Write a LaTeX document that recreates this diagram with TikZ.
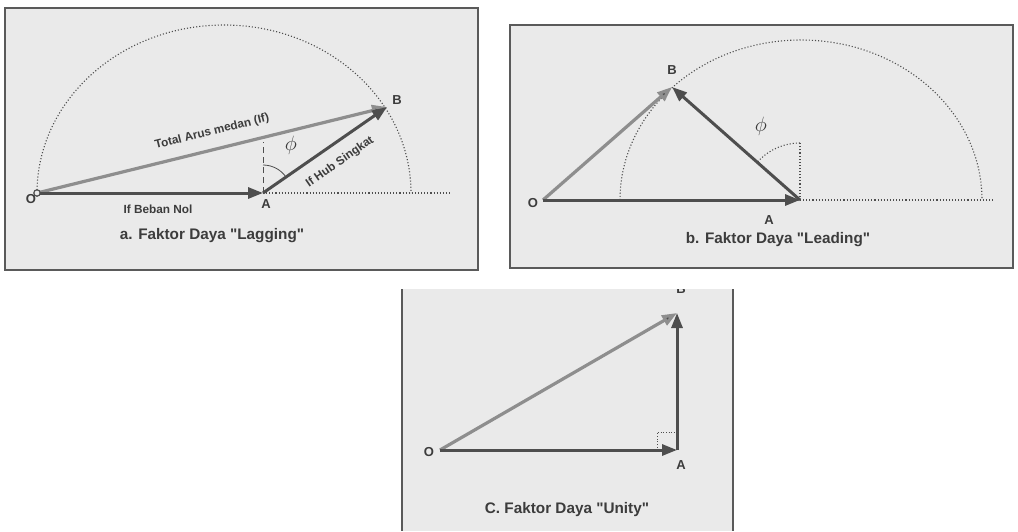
\documentclass[tikz,border=0pt]{standalone}
\usepackage{fontspec}
\setmainfont{Liberation Sans}[Ligatures=TeXOff]
\usetikzlibrary{arrows.meta}
\definecolor{panelbg}{HTML}{EAEAEA}
\definecolor{frame}{HTML}{5A5A5A}
\definecolor{darkvec}{HTML}{4E4E4E}
\definecolor{lightvec}{HTML}{8E8E8E}
\definecolor{txt}{HTML}{3C3C3C}
\tikzset{
  panel/.style={fill=panelbg, draw=frame, line width=1.2pt},
  darkv/.style={draw=darkvec, line width=3pt, -{Triangle[length=15pt,width=11pt]}},
  lightv/.style={draw=lightvec, line width=3.2pt, -{Triangle[length=15pt,width=11pt,fill=darkvec]}},
  dotline/.style={draw=darkvec, line width=1.1pt, dotted},
  ptlabel/.style={text=txt, font=\bfseries\fontsize{13}{13}\selectfont, inner sep=0pt},
  caption/.style={text=txt, font=\bfseries\fontsize{15.3}{16}\selectfont, inner sep=0pt},
  vlabel/.style={text=txt, font=\bfseries\fontsize{11.8}{12}\selectfont, inner sep=0pt},
  philabel/.style={text=txt, font=\fontsize{20}{20}\selectfont, inner sep=0pt},
}
\begin{document}
\begin{tikzpicture}[x=1pt,y=-1pt]
\useasboundingbox (0,0) rectangle (1018,531);
\fill[white] (0,0) rectangle (1018,531);

% ---------- Panel a ----------
\draw[panel] (5,8) rectangle (478,270);
\coordinate (Oa) at (37,193);
\coordinate (Aa) at (263,193);
\coordinate (Ba) at (387,107);
\coordinate (Ea) at (452,193);
\coordinate (Va) at (263,142);
\draw[dotline] (37,193) arc[start angle=180,end angle=360,x radius=187,y radius=168];
\draw[dotline] (Aa) -- (Ea);
\draw[draw=darkvec, line width=0.9pt, dash pattern=on 6pt off 4pt] (Aa) -- (Va);
\draw[draw=darkvec, line width=0.8pt] (263,165) arc[start angle=-90,end angle=-34.7,radius=28];
\draw[lightv] (Oa) -- (Ba);
\draw[darkv] (Oa) -- (Aa);
\draw[darkv] (Aa) -- (Ba);
\draw[draw=darkvec, fill=panelbg, line width=1.2pt] (Oa) circle[radius=3.2];
\node[ptlabel] (lOa) at (31,199) {O};
\node[ptlabel] (lAa) at (266,204) {A};
\node[ptlabel] (lBa) at (397,100) {B};
\node[philabel] (phia) at (291,145) {$\phi$};
\node[vlabel, rotate=13.8] (tot) at (212,132) {Total Arus medan (If)};
\node[vlabel, rotate=34.7] (hub) at (340,162) {If Hub Singkat};
\node[vlabel] (beb) at (158,209) {If Beban Nol};
\node[caption] (capa) at (212,236) {a. Faktor Daya "Lagging"};

% ---------- Panel b ----------
\draw[panel] (510,25) rectangle (1013,268);
\coordinate (Ob) at (543,200);
\coordinate (Ab) at (800,200);
\coordinate (Bb) at (672,87);
\coordinate (Eb) at (993,200);
\coordinate (Vb) at (800,143);
\draw[dotline] (620,200) arc[start angle=180,end angle=360,x radius=181,y radius=160];
\draw[dotline] (Ab) -- (Eb);
\draw[dotline] (Ab) -- (Vb);
\draw[dotline] (800,143) arc[start angle=-90,end angle=-138.6,radius=57];
\draw[lightv] (Ob) -- (Bb);
\draw[darkv] (Ob) -- (Ab);
\draw[darkv] (Ab) -- (Bb);
\node[ptlabel] (lOb) at (533,203) {O};
\node[ptlabel] (lAb) at (769,220) {A};
\node[ptlabel] (lBb) at (672,70) {B};
\node[philabel] (phib) at (761,126) {$\phi$};
\node[caption] (capb) at (778,240) {b. Faktor Daya "Leading"};

% ---------- Panel c ----------
\begin{scope}
\clip (400,289) rectangle (736,531);
\fill[panelbg] (402,289) rectangle (733,531);
\draw[draw=frame, line width=1.2pt] (402,289) -- (402,531);
\draw[draw=frame, line width=1.2pt] (733,289) -- (733,531);
\coordinate (Oc) at (440,450);
\coordinate (Ac) at (677,450);
\coordinate (Bc) at (677,313);
\draw[draw=darkvec, line width=0.7pt, dotted] (657,450) -- (657,432) -- (677,432);
\draw[lightv] (Oc) -- (Bc);
\draw[darkv] (Oc) -- (Ac);
\draw[darkv] (Ac) -- (Bc);
\node[ptlabel] (lOc) at (429,452) {O};
\node[ptlabel] (lAc) at (681,465) {A};
\node[ptlabel] (lBc) at (681,289) {B};
\node[caption] (capc) at (567,510) {C. Faktor Daya "Unity"};
\end{scope}
\end{tikzpicture}
\end{document}
